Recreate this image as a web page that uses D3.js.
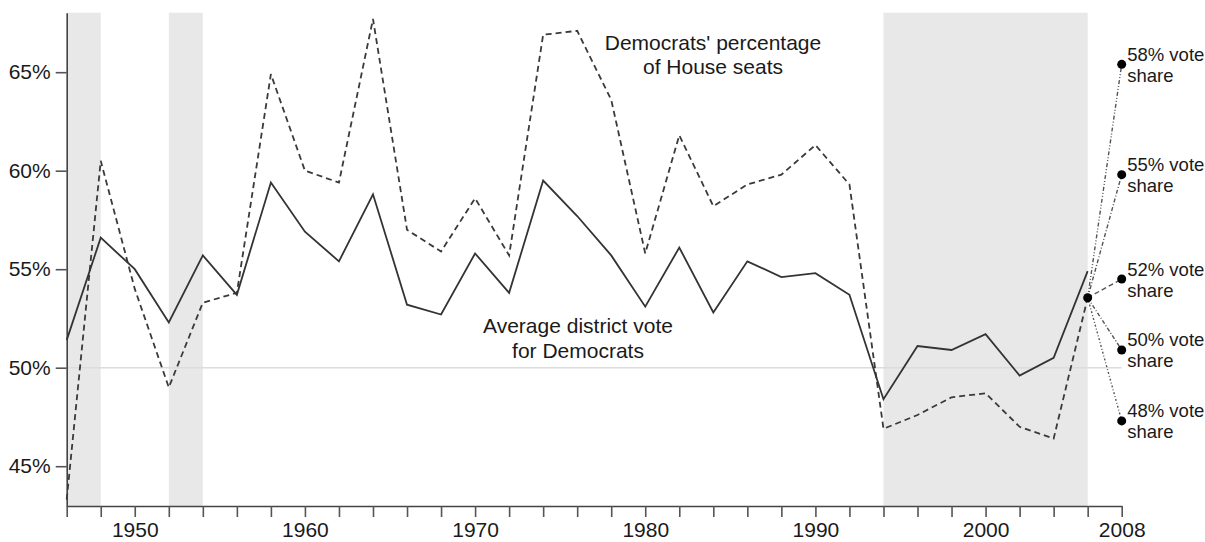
<!DOCTYPE html>
<html>
<head>
<meta charset="utf-8">
<script src="https://cdn.jsdelivr.net/npm/d3@7"></script>
<style>
  html, body { margin: 0; padding: 0; background: #fff; }
  svg { display: block; font-family: "Liberation Sans", Arial, Helvetica, sans-serif; }
</style>
</head>
<body>
<div id="chart"></div>
<script>
// ---- data ----
const years = [1946, 1948, 1950, 1952, 1954, 1956, 1958, 1960, 1962, 1964, 1966, 1968, 1970, 1972, 1974, 1976, 1978, 1980, 1982, 1984, 1986, 1988, 1990, 1992, 1994, 1996, 1998, 2000, 2002, 2004, 2006];
const seatShare = [43.3, 60.5, 54.0, 49.0, 53.3, 53.8, 64.9, 60.0, 59.4, 67.7, 57.0, 55.9, 58.6, 55.7, 66.9, 67.1, 63.6, 55.8, 61.8, 58.2, 59.3, 59.8, 61.3, 59.3, 46.9, 47.6, 48.5, 48.7, 47.0, 46.4, 53.55];
const voteShare = [51.4, 56.6, 55.0, 52.3, 55.7, 53.7, 59.4, 56.9, 55.4, 58.8, 53.2, 52.7, 55.8, 53.8, 59.5, 57.7, 55.7, 53.1, 56.1, 52.8, 55.4, 54.6, 54.8, 53.7, 48.4, 51.1, 50.9, 51.7, 49.6, 50.5, 54.9];
const repStart = [1946, 1952, 1994];
const repEnd = [1948, 1954, 2006];
const projFromYear = 2006;
const projFromValue = 53.55;
const projYear = 2008;
const projValues = [65.4, 59.8, 54.5, 50.9, 47.3];
const projLabels = ["58% vote", "55% vote", "52% vote", "50% vote", "48% vote"];
const projLabels2 = ["share", "share", "share", "share", "share"];
const yTicks = [45, 50, 55, 60, 65];
const xTicks = [1946, 1948, 1950, 1952, 1954, 1956, 1958, 1960, 1962, 1964, 1966, 1968, 1970, 1972, 1974, 1976, 1978, 1980, 1982, 1984, 1986, 1988, 1990, 1992, 1994, 1996, 1998, 2000, 2002, 2004, 2006, 2008];
const xTickLabels = [1950, 1960, 1970, 1980, 1990, 2000, 2008];

// ---- layout ----
const W = 1205, H = 542;
const m = { left: 66.7, top: 12.7, right: 83.3, bottom: 36 };
const x = d3.scaleLinear().domain([1946, 2008]).range([m.left, W - m.right]);
const y = d3.scaleLinear().domain([42.98, 68.02]).range([H - m.bottom, m.top]);

const svg = d3.select("#chart").append("svg").attr("width", W).attr("height", H);

// shaded periods
svg.append("g").selectAll("rect").data(repStart).join("rect")
  .attr("x", (d) => x(d))
  .attr("width", (d, i) => x(repEnd[i]) - x(d))
  .attr("y", y.range()[1])
  .attr("height", y.range()[0] - y.range()[1])
  .attr("fill", "#e8e8e8");

// 50% reference line
svg.append("line")
  .attr("x1", x(1946)).attr("x2", x(2008))
  .attr("y1", y(50)).attr("y2", y(50))
  .attr("stroke", "#dcdcdc").attr("stroke-width", 1.5);

// axes
const yAxis = d3.axisLeft(y).tickValues(yTicks).tickFormat((d) => d + "%").tickSize(11).tickSizeOuter(0).tickPadding(5);
const gy = svg.append("g").attr("transform", `translate(${m.left},0)`).call(yAxis);
const xAxis = d3.axisBottom(x).tickValues(xTicks)
  .tickFormat((d) => xTickLabels.includes(d) ? String(d) : "")
  .tickSize(11).tickSizeOuter(0).tickPadding(5);
const gx = svg.append("g").attr("transform", `translate(0,${y.range()[0]})`).call(xAxis);
[gx, gy].forEach((g) => {
  g.select(".domain").attr("stroke", "#444").attr("stroke-width", 1.6);
  g.selectAll(".tick line").attr("stroke", "#555").attr("stroke-width", 1.6);
  g.selectAll(".tick text").attr("fill", "#1a1a1a").style("font-size", "21px").style("font-family", '"Liberation Sans", Arial, sans-serif');
});

// lines
const line = d3.line().x((d) => x(d[0])).y((d) => y(d[1]));
svg.append("path")
  .datum(years.map((yr, i) => [yr, seatShare[i]]))
  .attr("d", line).attr("fill", "none")
  .attr("stroke", "#3a3a3a").attr("stroke-width", 1.8).attr("stroke-dasharray", "6,4");
svg.append("path")
  .datum(years.map((yr, i) => [yr, voteShare[i]]))
  .attr("d", line).attr("fill", "none")
  .attr("stroke", "#333").attr("stroke-width", 1.8);

// projections
const dashes = ["4,2,1,2,1,2", "4,2,1,2", "5,3", "4,2,1,2", "2,2,1,2"];
svg.append("g").selectAll("line").data(projValues).join("line")
  .attr("x1", x(projFromYear)).attr("y1", y(projFromValue))
  .attr("x2", x(projYear)).attr("y2", (d) => y(d))
  .attr("stroke", "#555").attr("stroke-width", 1.4)
  .attr("stroke-dasharray", (d, i) => dashes[i]);
svg.append("circle").attr("cx", x(projFromYear)).attr("cy", y(projFromValue)).attr("r", 4.5).attr("fill", "#000");
svg.append("g").selectAll("circle").data(projValues).join("circle")
  .attr("cx", x(projYear)).attr("cy", (d) => y(d)).attr("r", 4.5).attr("fill", "#000");
const lbl = svg.append("g").style("font-size", "18.5px").attr("fill", "#1a1a1a");
lbl.selectAll("text.l1").data(projValues).join("text").attr("class", "l1")
  .attr("x", x(projYear) + 5.5).attr("y", (d) => y(d) - 3.5).text((d, i) => projLabels[i]);
lbl.selectAll("text.l2").data(projValues).join("text").attr("class", "l2")
  .attr("x", x(projYear) + 5.5).attr("y", (d) => y(d) + 17.5).text((d, i) => projLabels2[i]);

// annotations
const ann = svg.append("g").style("font-size", "21px").attr("fill", "#1a1a1a").attr("text-anchor", "middle");
ann.append("text").attr("x", 713).attr("y", 50).text("Democrats' percentage");
ann.append("text").attr("x", 713).attr("y", 74).text("of House seats");
ann.append("text").attr("x", 578).attr("y", 333).text("Average district vote");
ann.append("text").attr("x", 578).attr("y", 358).text("for Democrats");
</script>
</body>
</html>
